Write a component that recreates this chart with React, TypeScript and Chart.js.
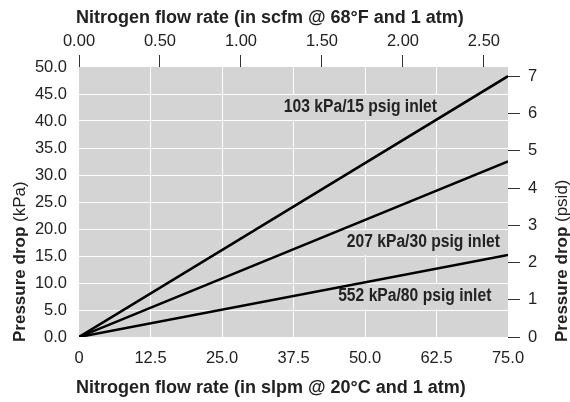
import React, { useEffect, useRef } from "react";
import { Chart, registerables } from "chart.js";

Chart.register(...registerables);

// ---- Data ----
const flowSlpm = [0, 75];
const drop103 = [0, 48.3];
const drop207 = [0, 32.5];
const drop552 = [0, 15.2];
const seriesLabels = ["103 kPa/15 psig inlet", "207 kPa/30 psig inlet", "552 kPa/80 psig inlet"];

// ---- Tick labels ----
const bottomTicks = ["0", "12.5", "25.0", "37.5", "50.0", "62.5", "75.0"];
const topTicks = ["0.00", "0.50", "1.00", "1.50", "2.00", "2.50"];
const leftTicks = ["0.0", "5.0", "10.0", "15.0", "20.0", "25.0", "30.0", "35.0", "40.0", "45.0", "50.0"];
const rightTicks = ["0", "1", "2", "3", "4", "5", "6", "7"];

const SLPM_PER_SCFM = 28.3168;
const KPA_PER_PSI = 6.89476;

// Label annotations (data coordinates: slpm, kPa band centre)
const labelAnchorX = [49.2, 60.2, 58.7];
const labelAnchorY = [42.5, 17.5, 7.5];

const FONT = '"Liberation Sans", Arial, Helvetica, sans-serif';
const PLOT_BG = "rgb(212,212,212)";
const TEXT = "#222";

const bgPlugin = {
  id: "bgPlugin",
  beforeDraw(chart: any) {
    const { ctx, chartArea } = chart;
    ctx.save();
    ctx.fillStyle = "#fff";
    ctx.fillRect(0, 0, chart.width, chart.height);
    ctx.fillStyle = PLOT_BG;
    ctx.fillRect(chartArea.left, chartArea.top, chartArea.right - chartArea.left, chartArea.bottom - chartArea.top);
    ctx.restore();
  },
};

const labelPlugin = {
  id: "labelPlugin",
  beforeDatasetsDraw(chart: any) {
    const { ctx } = chart;
    const xs = chart.scales.x;
    const ys = chart.scales.y;
    const SX = 0.87;
    ctx.save();
    ctx.font = `bold 18px ${FONT}`;
    for (let i = 0; i < seriesLabels.length; i++) {
      const txt = seriesLabels[i];
      const cx = xs.getPixelForValue(labelAnchorX[i]);
      const yTop = ys.getPixelForValue(labelAnchorY[i] + 2.5) + 1;
      const yBot = ys.getPixelForValue(labelAnchorY[i] - 2.5) - 1;
      const w = ctx.measureText(txt).width * SX;
      ctx.fillStyle = PLOT_BG;
      ctx.fillRect(cx - w / 2 - 6, yTop, w + 12, yBot - yTop);
      ctx.save();
      ctx.translate(cx, (yTop + yBot) / 2);
      ctx.scale(SX, 1);
      ctx.fillStyle = TEXT;
      ctx.textAlign = "center";
      ctx.textBaseline = "middle";
      ctx.fillText(txt, 0, 0);
      ctx.restore();
    }
    ctx.restore();
  },
};

const titlePlugin = {
  id: "titlePlugin",
  afterDraw(chart: any) {
    const { ctx, chartArea } = chart;
    ctx.save();
    ctx.fillStyle = TEXT;
    ctx.textBaseline = "alphabetic";
    ctx.textAlign = "left";
    ctx.font = `bold 18px ${FONT}`;
    ctx.fillText("Nitrogen flow rate (in scfm @ 68°F and 1 atm)", chartArea.left - 3, 23);
    ctx.fillText("Nitrogen flow rate (in slpm @ 20°C and 1 atm)", chartArea.left - 3, 393);

    const drawRot = (x: number, y: number, bold: string, normal: string) => {
      ctx.save();
      ctx.translate(x, y);
      ctx.rotate(-Math.PI / 2);
      ctx.font = `bold 17px ${FONT}`;
      ctx.fillText(bold, 0, 0);
      const w = ctx.measureText(bold).width;
      ctx.font = `17px ${FONT}`;
      ctx.fillText(normal, w, 0);
      ctx.restore();
    };
    drawRot(25, 342, "Pressure drop", " (kPa)");
    drawRot(567, 342, "Pressure drop", " (psid)");
    ctx.restore();
  },
};

const toPoints = (ys: number[]) => flowSlpm.map((x, i) => ({ x, y: ys[i] }));

export default function App() {
  const ref = useRef<HTMLCanvasElement | null>(null);

  useEffect(() => {
    if (!ref.current) return;
    const lineDs = (label: string, data: number[]) => ({
      label,
      data: toPoints(data),
      xAxisID: "x",
      yAxisID: "y",
      borderColor: "#000",
      borderWidth: 2.5,
      pointRadius: 0,
      tension: 0,
      fill: false,
    });
    const tickFont = { family: FONT, size: 16.5 };
    const chart = new Chart(ref.current, {
      type: "line",
      data: {
        datasets: [
          lineDs(seriesLabels[0], drop103),
          lineDs(seriesLabels[1], drop207),
          lineDs(seriesLabels[2], drop552),
        ],
      },
      options: {
        animation: false,
        responsive: false,
        devicePixelRatio: 1,
        layout: { padding: 0 },
        plugins: { legend: { display: false }, tooltip: { enabled: false } },
        scales: {
          x: {
            type: "linear",
            position: "bottom",
            min: 0,
            max: 75,
            afterFit: (s: any) => { s.height = 65; },
            border: { display: false },
            grid: {
              color: (c: any) => (c.tick && (c.tick.value === 0 || c.tick.value === 75) ? "rgba(0,0,0,0)" : "#fff"),
              lineWidth: 1,
              drawTicks: false,
            },
            ticks: {
              stepSize: 12.5,
              autoSkip: false,
              maxRotation: 0,
              padding: 12,
              color: TEXT,
              font: tickFont,
              callback: (_v: any, i: number) => bottomTicks[i],
            },
          },
          x2: {
            type: "linear",
            position: "top",
            min: 0,
            max: 75 / SLPM_PER_SCFM,
            afterFit: (s: any) => { s.height = 67; },
            border: { display: false },
            grid: { drawOnChartArea: false, drawTicks: true, tickLength: 12, tickColor: "#333", lineWidth: 1 },
            ticks: {
              stepSize: 0.5,
              includeBounds: false,
              autoSkip: false,
              maxRotation: 0,
              padding: 4,
              color: TEXT,
              font: tickFont,
              callback: (_v: any, i: number) => topTicks[i],
            },
          },
          y: {
            type: "linear",
            position: "left",
            min: 0,
            max: 50,
            afterFit: (s: any) => { s.width = 79; },
            border: { display: false },
            grid: {
              color: (c: any) => (c.tick && (c.tick.value === 0 || c.tick.value === 50) ? "rgba(0,0,0,0)" : "#fff"),
              lineWidth: 1,
              drawTicks: false,
            },
            ticks: {
              stepSize: 5,
              autoSkip: false,
              padding: 12,
              color: TEXT,
              font: tickFont,
              callback: (_v: any, i: number) => leftTicks[i],
            },
          },
          y2: {
            type: "linear",
            position: "right",
            min: 0,
            max: 50 / KPA_PER_PSI,
            afterFit: (s: any) => { s.width = 62; },
            border: { display: false },
            grid: { drawOnChartArea: false, drawTicks: true, tickLength: 12, tickColor: "#333", lineWidth: 1 },
            ticks: {
              stepSize: 1,
              includeBounds: false,
              autoSkip: false,
              padding: 8,
              color: TEXT,
              font: tickFont,
              callback: (_v: any, i: number) => rightTicks[i],
            },
          },
        },
      } as any,
      plugins: [bgPlugin, labelPlugin, titlePlugin],
    });
    return () => chart.destroy();
  }, []);

  return (
    <div style={{ position: "fixed", left: 0, top: 0, width: 570, height: 402 }}>
      <canvas ref={ref} width={570} height={402} style={{ width: 570, height: 402 }} />
    </div>
  );
}
